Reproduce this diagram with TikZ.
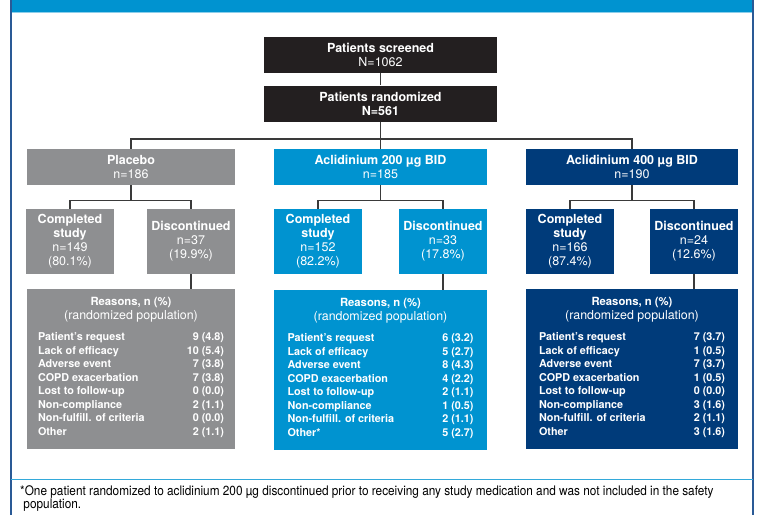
\documentclass[tikz,border=0pt]{standalone}
\usepackage{fontspec}
\setmainfont{TeX Gyre Heros}
\newfontfamily\notefont[FakeStretch=0.895]{TeX Gyre Heros}
\usetikzlibrary{positioning}

\definecolor{plagray}{HTML}{8E8F91}
\definecolor{lowblue}{HTML}{0093D0}
\definecolor{highblue}{HTML}{003B7A}
\definecolor{boxblack}{HTML}{231F20}
\definecolor{framecol}{HTML}{2A5A96}
\definecolor{linecol}{HTML}{3A3A3A}

\newcommand{\boxfont}{\fontsize{12.5}{14}\selectfont}
\newcommand{\reasons}[9]{%
	\fontsize{10.8}{13.5}\selectfont\bfseries
	\begin{tabular*}{186pt}{@{\extracolsep{\fill}}lr@{}}
	\multicolumn{2}{c}{\fontsize{11.3}{14}\selectfont Reasons, n (\%)}\\[1pt]
	\multicolumn{2}{c}{\fontsize{12.4}{14}\selectfont\mdseries (randomized population)}\\[7.5pt]
	Patient’s request & #1\\
	Lack of efficacy & #2\\
	Adverse event & #3\\
	COPD exacerbation & #4\\
	Lost to follow-up & #5\\
	Non-compliance & #6\\
	Non-fulfill. of criteria & #7\\
	Other#9 & #8\\[3pt]
	\end{tabular*}}

\begin{document}
\begin{tikzpicture}[x=1pt,y=-1pt]
	\tikzstyle{top_box} = [rectangle, fill=boxblack, text=white, minimum width=233pt, minimum height=36pt, align=center, font=\boxfont, inner sep=0pt]
	\tikzstyle{arm_box} = [rectangle, text=white, minimum height=36pt, align=center, font=\boxfont, inner sep=0pt]
	\tikzstyle{outcome_box} = [rectangle, text=white, minimum width=88pt, minimum height=65pt, align=center, font=\boxfont, inner sep=0pt]
	\tikzstyle{reasons_box} = [rectangle, text=white, minimum height=160pt, inner sep=0pt]
	\tikzstyle{link} = [draw=linecol, line width=1.3pt]

	\useasboundingbox (0,0) rectangle (757,515);

	% Frame
	\fill[lowblue] (11,0) rectangle (753,12);
	\draw[lowblue!45, line width=1pt] (11,12.5) -- (753,12.5);
	\draw[framecol, line width=1.5pt] (11,0) -- (11,515);
	\draw[framecol, line width=1.5pt] (753,0) -- (753,515);
	\draw[lowblue!80, line width=1pt] (11,479) -- (753,479);

	% Screening and randomization
	\node (scr) [top_box] at (380.5,55) {\textbf{Patients screened}\\N=1062};
	\node (rnd) [top_box] at (380.5,103.5) {\textbf{Patients randomized}\\\textbf{N=561}};
	\draw[link] (scr) -- (rnd);

	% Treatment arms
	\node (pla) [arm_box, fill=plagray, minimum width=208pt] at (131,167) {\textbf{Placebo}\\n=186};
	\node (low) [arm_box, fill=lowblue, minimum width=213pt] at (380.5,167) {\textbf{Aclidinium 200 µg BID}\\n=185};
	\node (high) [arm_box, fill=highblue, minimum width=212pt] at (632,167) {\textbf{Aclidinium 400 µg BID}\\n=190};
	\coordinate (split) at (rnd.south |- 0,139);
	\draw[link] (rnd) -- (split);
	\draw[link] (pla.north) |- (split) -| (high.north);
	\draw[link] (split) -- (low.north);

	% Placebo
	\node (plaC) [outcome_box, fill=plagray] at (70,241.5) {\textbf{Completed}\\\textbf{study}\\n=149\\(80.1\%)};
	\node (plaD) [outcome_box, fill=plagray] at (191,241.5) {\textbf{Discontinued}\\n=37\\(19.9\%)};
	\coordinate (plaJ) at (pla.south |- 0,200.5);
	\draw[link] (pla) -- (plaJ);
	\draw[link] (plaC.north) |- (plaJ) -| (plaD.north);
	\node (plaR) [reasons_box, fill=plagray, minimum width=208pt] at (131,369)
		{\reasons{9 (4.8)}{10 (5.4)}{7 (3.8)}{7 (3.8)}{0 (0.0)}{2 (1.1)}{0 (0.0)}{2 (1.1)}{}};
	\draw[link] (plaD.south) -- (plaD.south |- plaR.north);

	% Aclidinium 200
	\node (lowC) [outcome_box, fill=lowblue] at (318,241.5) {\textbf{Completed}\\\textbf{study}\\n=152\\(82.2\%)};
	\node (lowD) [outcome_box, fill=lowblue] at (443,241.5) {\textbf{Discontinued}\\n=33\\(17.8\%)};
	\coordinate (lowJ) at (low.south |- 0,200.5);
	\draw[link] (low) -- (lowJ);
	\draw[link] (lowC.north) |- (lowJ) -| (lowD.north);
	\node (lowR) [reasons_box, fill=lowblue, minimum width=213pt] at (380.5,370)
		{\reasons{6 (3.2)}{5 (2.7)}{8 (4.3)}{4 (2.2)}{2 (1.1)}{1 (0.5)}{2 (1.1)}{5 (2.7)}{*}};
	\draw[link] (lowD.south) -- (lowD.south |- lowR.north);

	% Aclidinium 400
	\node (highC) [outcome_box, fill=highblue] at (570,241.5) {\textbf{Completed}\\\textbf{study}\\n=166\\(87.4\%)};
	\node (highD) [outcome_box, fill=highblue] at (694,241.5) {\textbf{Discontinued}\\n=24\\(12.6\%)};
	\coordinate (highJ) at (high.south |- 0,200.5);
	\draw[link] (high) -- (highJ);
	\draw[link] (highC.north) |- (highJ) -| (highD.north);
	\node (highR) [reasons_box, fill=highblue, minimum width=212pt] at (632,369)
		{\reasons{7 (3.7)}{1 (0.5)}{7 (3.7)}{1 (0.5)}{0 (0.0)}{3 (1.6)}{2 (1.1)}{3 (1.6)}{}};
	\draw[link] (highD.south) -- (highD.south |- highR.north);

	% Footnote
	\node (note) [anchor=north west, align=left, inner sep=0pt, font=\notefont\fontsize{13.2}{13}\selectfont] at (20,485.5)
		{*One patient randomized to aclidinium 200 µg discontinued prior to receiving any study medication and was not included in the safety\\
		\ population.};
\end{tikzpicture}
\end{document}
